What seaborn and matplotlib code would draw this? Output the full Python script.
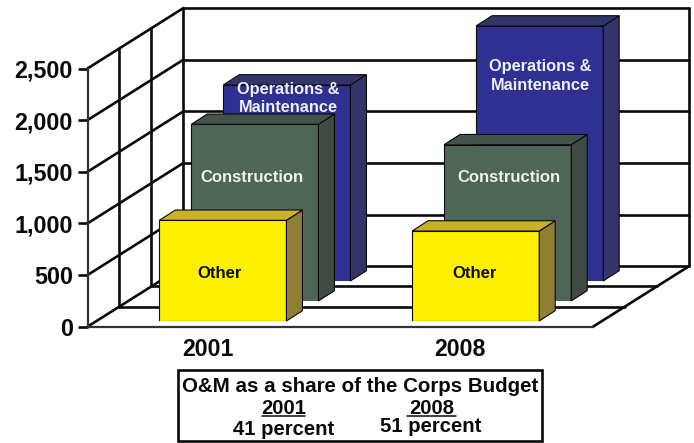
import pandas as pd
import seaborn as sns
import matplotlib.pyplot as plt
from matplotlib.patches import Polygon, Rectangle

years = ['2001', '2008']
other = [975, 871]
construction = [1711, 1513]
operations = [1898, 2469]
y_ticks = [0, 500, 1000, 1500, 2000, 2500]
y_labels = ['0', '500', '1,000', '1,500', '2,000', '2,500']

W, H = 694, 443
X0, X1 = 87.5, 593.0
Y0, Y_TOP = 326.7, 68.5
WALL_DX, WALL_DY = 96.0, 60.5
PX_PER_UNIT = (Y0 - Y_TOP) / 2500
BAR_DX, BAR_DY = 16.0, 10.3
BLACK = '#0a0a0a'

sns.set_theme(style='white')
plt.rcParams['font.family'] = ['Liberation Sans', 'DejaVu Sans']
plt.rcParams['font.weight'] = 'bold'

fig = plt.figure(figsize=(W / 100, H / 100), dpi=100)


def add_plane(shift_x, shift_y):
    # axes lying on one depth plane of the fake 3d box, sizes in pixels
    a = fig.add_axes([(X0 + shift_x) / W, 1 - (Y0 - shift_y) / H,
                      (X1 - X0) / W, (Y0 - Y_TOP) / H])
    a.patch.set_visible(False)
    return a


def y_px(v):
    return Y0 - v * PX_PER_UNIT


# walls and floor
bg = fig.add_axes([0, 0, 1, 1])
bg.set_xlim(0, W)
bg.set_ylim(H, 0)
bg.axis('off')
lw = 1.9
for v in y_ticks:
    bg.plot([X0, X0 + WALL_DX], [y_px(v), y_px(v) - WALL_DY], color=BLACK, lw=lw)
    bg.plot([X0 + WALL_DX, X1 + WALL_DX], [y_px(v) - WALL_DY] * 2, color=BLACK, lw=lw)
for frac in [1 / 3, 2 / 3]:
    x = X0 + WALL_DX * frac
    y_low = Y0 - WALL_DY * frac
    bg.plot([x, x], [y_low, y_low - (Y0 - Y_TOP)], color=BLACK, lw=lw)
    bg.plot([x, X1 + WALL_DX * frac], [y_low, y_low], color=BLACK, lw=lw)
bg.plot([X0 + WALL_DX] * 2, [Y0 - WALL_DY, Y_TOP - WALL_DY], color=BLACK, lw=lw)
bg.plot([X1 + WALL_DX] * 2, [Y0 - WALL_DY, Y_TOP - WALL_DY], color=BLACK, lw=lw)
bg.plot([X1, X1 + WALL_DX], [Y0, Y0 - WALL_DY], color=BLACK, lw=lw)

# front plane carries the axis labels
front = add_plane(0, 0)
front.set_xlim(-0.5, 1.5)
front.set_ylim(0, 2500)
front.set_yticks(y_ticks)
front.set_yticklabels(y_labels, fontsize=16.8, fontweight='bold', color=BLACK)
front.set_xticks([-0.022, 0.974])
front.set_xticklabels(years, fontsize=16.7, fontweight='bold', color=BLACK)
front.tick_params(axis='y', length=7.5, width=1.9, color=BLACK, left=True, pad=3)
front.tick_params(axis='x', length=0, pad=8)
sns.despine(ax=front, top=True, right=True)
for side in ['left', 'bottom']:
    front.spines[side].set_color('#333333')
    front.spines[side].set_linewidth(1.6)

layers = [
    (operations, 73.0, 45.7, '#2E3192', '#33346A', '#33346A'),
    (construction, 41.0, 25.7, '#4E6656', '#44524A', '#404A42'),
    (other, 9.0, 5.7, '#FFF000', '#C9B12B', '#8F7F35'),
]
for values, sx, sy, face, top_col, side_col in layers:
    df = pd.DataFrame({'year': years, 'value': values})
    a = add_plane(sx, sy)
    sns.barplot(data=df, x='year', y='value', color=face, saturation=1, width=0.503,
                edgecolor=BLACK, linewidth=0.8, ax=a)
    a.set_xlim(-0.5, 1.5)
    a.set_ylim(0, 2500)
    a.axis('off')
    ddx = BAR_DX / ((X1 - X0) / 2)
    ddy = BAR_DY / PX_PER_UNIT
    for bar in list(a.patches):
        x0, w, h = bar.get_x(), bar.get_width(), bar.get_height()
        a.add_patch(Polygon([(x0 + w, 0), (x0 + w + ddx, ddy), (x0 + w + ddx, h + ddy), (x0 + w, h)],
                            facecolor=side_col, edgecolor=BLACK, lw=0.8, clip_on=False))
        a.add_patch(Polygon([(x0, h), (x0 + ddx, h + ddy), (x0 + w + ddx, h + ddy), (x0 + w, h)],
                            facecolor=top_col, edgecolor=BLACK, lw=0.8, clip_on=False))

# labels on the bars and the note box, in pixel positions
ov = fig.add_axes([0, 0, 1, 1])
ov.set_xlim(0, W)
ov.set_ylim(H, 0)
ov.axis('off')
ov.patch.set_visible(False)


def label(x, y, s, color=BLACK, size=12):
    ov.text(x, y, s, ha='center', va='center', color=color, fontsize=size, fontweight='bold')


for x, y1, y2 in [(288.7, 89.5, 107.5), (540, 66.5, 85.5)]:
    label(x, y1, 'Operations &', '#EEEEF6', 11.8)
    label(x, y2, 'Maintenance', '#EEEEF6', 11.8)
for x in [251.7, 508.5]:
    label(x, 177.5, 'Construction', '#EEF0EC')
for x in [220, 474.5]:
    label(x, 273.5, 'Other')

ov.add_patch(Rectangle((178, 370), 363.7, 71, facecolor='white', edgecolor=BLACK, lw=1.9))
label(360, 386.5, 'O&M as a share of the Corps Budget', size=14.8)
label(283.5, 408, '2001', size=14.6)
label(431.5, 408, '2008', size=14.6)
ov.plot([262, 305.5], [416, 416], color=BLACK, lw=1.1)
ov.plot([407, 456], [416, 416], color=BLACK, lw=1.1)
label(284, 429.5, '41 percent', size=14.6)
label(431, 427, '51 percent', size=14.6)

plt.savefig('out.png', dpi=100)
